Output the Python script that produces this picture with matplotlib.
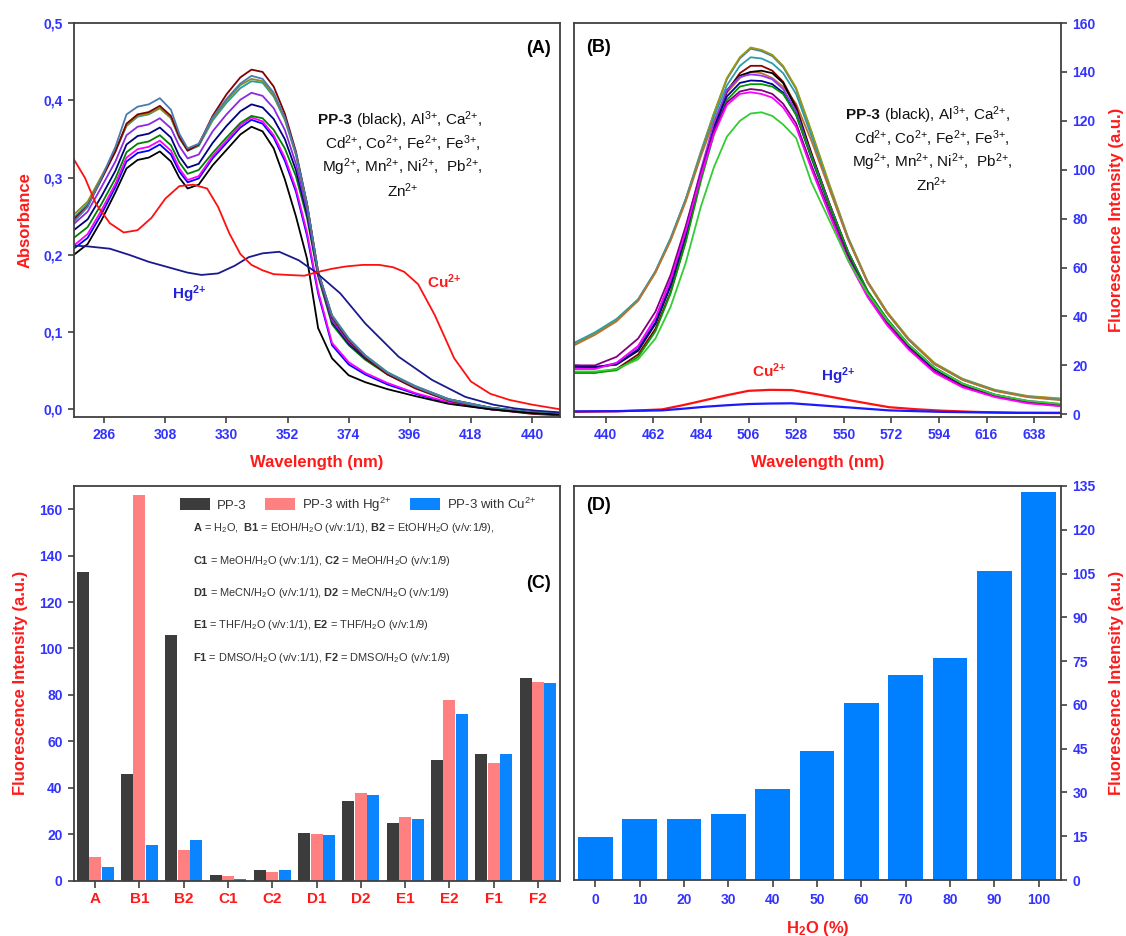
import matplotlib
matplotlib.use('Agg')
import matplotlib.pyplot as plt
import numpy as np

plt.rcParams['font.family'] = ['Liberation Sans', 'DejaVu Sans']
plt.rcParams['mathtext.fontset'] = 'custom'
plt.rcParams['mathtext.rm'] = 'Liberation Sans'
plt.rcParams['mathtext.bf'] = 'Liberation Sans:bold'
plt.rcParams['mathtext.it'] = 'Liberation Sans:italic'

# ---------- (A) absorption spectra ----------
wl_a = [275, 280, 285, 290, 294, 298, 302, 306, 310, 313, 316, 320, 325, 330, 335, 339,
        343, 347, 351, 355, 359, 363, 368, 374, 380, 388, 398, 410, 425, 440, 450]
abs_pp3 = [.200, .214, .245, .281, .312, .323, .326, .334, .321, .300, .286, .291, .316, .336, .356, .366,
           .360, .338, .298, .250, .195, .105, .066, .044, .035, .026, .017, .007, .000, -.005, -.007]
abs_ions = {
    '#0000ff': [.208, .222, .253, .288, .321, .332, .335, .343, .330, .308, .294, .299, .325, .345, .365, .375,
                .370, .352, .322, .282, .225, .150, .083, .058, .045, .032, .020, .008, .000, -.005, -.007],
    '#ff00ff': [.212, .227, .258, .292, .326, .337, .340, .348, .335, .312, .297, .302, .328, .348, .368, .378,
                .373, .355, .326, .286, .229, .153, .086, .061, .047, .034, .021, .009, .000, -.005, -.007],
    '#008000': [.222, .236, .266, .299, .333, .344, .347, .355, .342, .320, .305, .310, .332, .352, .371, .380,
                .377, .362, .338, .302, .248, .172, .110, .083, .064, .045, .028, .012, .002, -.004, -.006],
    '#000080': [.232, .246, .276, .309, .343, .354, .357, .365, .352, .328, .313, .318, .345, .367, .386, .395,
                .391, .376, .350, .310, .253, .175, .113, .085, .066, .046, .029, .013, .002, -.004, -.006],
    '#8a2be2': [.240, .256, .288, .321, .355, .366, .369, .377, .364, .341, .325, .330, .360, .382, .401, .410,
                .406, .390, .362, .318, .258, .176, .115, .087, .068, .047, .030, .013, .002, -.004, -.006],
    '#1f9f9f': [.248, .266, .300, .334, .367, .379, .382, .390, .377, .351, .335, .341, .374, .397, .416, .425,
                .423, .405, .375, .330, .265, .178, .122, .092, .070, .048, .030, .013, .002, -.004, -.006],
    '#8c8c1a': [.252, .269, .302, .335, .368, .380, .383, .390, .378, .352, .336, .342, .376, .400, .420, .428,
                .425, .407, .376, .330, .265, .178, .121, .091, .069, .047, .029, .012, .001, -.005, -.007],
    '#800000': [.246, .263, .298, .334, .370, .382, .385, .393, .380, .353, .335, .343, .380, .408, .430, .440,
                .437, .418, .383, .334, .266, .178, .119, .089, .067, .045, .027, .011, .000, -.006, -.008],
    '#4a7ab0': [.243, .262, .300, .340, .382, .392, .395, .403, .388, .357, .338, .344, .378, .402, .422, .432,
                .428, .410, .378, .332, .266, .178, .121, .091, .069, .047, .029, .012, .001, -.005, -.007],
}
wl_hg_a = [275, 280, 288, 295, 302, 310, 316, 321, 327, 333, 338, 343, 349, 356, 362, 371,
           380, 392, 404, 416, 426, 434, 442, 450]
abs_hg = [0.212, 0.211, 0.208, 0.200, 0.191, 0.183, 0.177, 0.174, 0.176, 0.186, 0.197, 0.202,
          0.204, 0.193, 0.178, 0.150, 0.111, 0.068, 0.038, 0.016, 0.006, 0.001, -0.002, -0.004]
wl_cu_a = [275, 279, 283, 288, 293, 298, 303, 308, 313, 318, 323, 327, 331, 335, 339, 343, 347,
           352, 358, 363, 368, 373, 379, 385, 390, 394, 399, 405, 412, 418, 425, 432, 440, 450]
abs_cu = [0.324, 0.300, 0.266, 0.241, 0.229, 0.232, 0.248, 0.273, 0.289, 0.291, 0.286, 0.262,
          0.228, 0.201, 0.187, 0.180, 0.175, 0.174, 0.173, 0.178, 0.182, 0.185, 0.187, 0.187,
          0.184, 0.178, 0.162, 0.122, 0.066, 0.036, 0.020, 0.012, 0.006, 0.000]

# ---------- (B) emission spectra ----------
wl_b = [425, 435, 445, 455, 463, 470, 477, 484, 490, 496, 502, 507, 512, 517, 522, 528,
        535, 543, 552, 561, 570, 580, 592, 605, 620, 635, 650]
fl_ions = {
    '#4a7ab0': [29, 33, 38.5, 47, 58.5, 72, 88, 107.5, 123, 137, 145.5, 149.5, 148.5, 146.5, 142, 133,
                115.5, 94.5, 72, 54, 41.5, 30.5, 20.5, 14.2, 9.7, 7.3, 6.3],
    '#9a9a10': [28.5, 33, 38.5, 46.5, 58, 71.5, 88, 107, 123, 137.5, 146, 150, 149, 147, 142.5, 133.5,
                116, 95, 72.5, 54.5, 42, 31, 21, 14.5, 10, 7.5, 6.5],
    '#2a9fa5': [29, 33.5, 39, 47, 58.5, 72, 88, 106.5, 121.5, 134.5, 142.5, 146, 145.5, 143.5, 139.5, 131,
                114, 93.5, 72, 54, 41.5, 30.5, 20.5, 14.3, 9.8, 7.2, 6],
    '#b87333': [28, 32.5, 38, 46.5, 58, 71, 87, 105.5, 120, 131.5, 137.5, 140, 139.5, 137.5, 134, 127,
                112, 93, 71.5, 54, 41.5, 30.5, 20.5, 14, 9.5, 7, 5.8],
    '#8b0000': [17, 17, 18.5, 24.5, 35, 50, 71, 97, 117, 132, 139.5, 142.5, 142.5, 140.5, 136, 126,
                107, 87, 66, 50, 38.5, 28, 18.5, 12, 7.5, 4.8, 3.5],
    '#000000': [20, 19.4, 20.3, 26, 37, 52.5, 73, 98, 117.5, 132.5, 138.5, 140, 140.5, 139.5, 135.5, 125,
                106.5, 87, 66.5, 50.2, 38.5, 28, 18.5, 12.2, 7.7, 5.1, 3.8],
    '#9933ff': [19, 19, 21, 27.5, 39, 55, 76, 100, 119, 132.5, 138, 139, 138.5, 137, 133, 124,
                106, 87, 66.5, 50.5, 39, 28.5, 19, 12.5, 8, 5.5, 4.2],
    '#000099': [19.5, 19.2, 20.5, 26.5, 37.5, 53, 73.5, 98, 116.5, 130, 135.5, 136.5, 136.3, 135, 131.5, 122.5,
                105, 86, 66, 50, 38.5, 28, 18.5, 12.2, 7.8, 5.2, 4],
    '#009900': [17, 17, 18, 23.5, 34, 49.5, 70.5, 95.5, 114.5, 128.5, 134, 135, 135, 134, 131, 122.5,
                105.5, 86.5, 66.5, 50.5, 39, 28.5, 19, 12.5, 8, 5.3, 4],
    '#800080': [20, 20, 23.5, 31, 42, 57, 77, 99, 116, 127.5, 132, 133, 132.5, 131, 127, 119,
                102, 84, 64.5, 49, 37.5, 27, 17.5, 11.5, 7.3, 4.8, 3.5],
    '#ff00ff': [18.5, 18.5, 21, 28, 39.5, 55, 75, 97.5, 114.5, 126.5, 131, 131.7, 131, 129.5, 125.5, 117.5,
                100.5, 82.5, 63, 48, 36.5, 26.5, 17, 11, 7, 4.5, 3.3],
    '#33cc33': [17.5, 17.5, 18.5, 22.5, 31, 44, 62, 85, 101, 113.5, 120, 123, 123.5, 122, 118.5, 113,
                95, 80, 63, 49.5, 38.5, 28.5, 19, 12.5, 8, 5.5, 4.3],
}
wl_b_q = [425, 445, 466, 476, 486, 496, 506, 516, 526, 537, 548, 560, 571, 583, 595, 610, 630, 650]
fl_cu = [1.0, 1.2, 2.0, 3.8, 5.8, 7.8, 9.6, 10.0, 9.9, 8.3, 6.5, 4.6, 2.9, 2.1, 1.5, 1.0, 0.6, 0.5]
fl_hg = [1.2, 1.3, 1.6, 2.3, 3.1, 3.7, 4.2, 4.4, 4.5, 3.8, 3.1, 2.3, 1.6, 1.3, 1.0, 0.8, 0.6, 0.6]

# ---------- (C) solvents ----------
solvents = ['A', 'B1', 'B2', 'C1', 'C2', 'D1', 'D2', 'E1', 'E2', 'F1', 'F2']
c_pp3 = [133, 46, 106, 2.5, 4.8, 20.5, 34.5, 24.8, 51.8, 54.5, 87.5]
c_hg = [10.4, 166, 13.2, 2.0, 3.8, 20.1, 37.7, 27.4, 77.8, 50.8, 85.7]
c_cu = [5.9, 15.5, 17.5, 0.7, 4.4, 19.7, 36.9, 26.6, 71.8, 54.5, 85.3]
c_notes = [r"$\mathbf{A}$ = H$_2$O,  $\mathbf{B1}$ = EtOH/H$_2$O (v/v:1/1), $\mathbf{B2}$ = EtOH/H$_2$O (v/v:1/9),",
           r"$\mathbf{C1}$ = MeOH/H$_2$O (v/v:1/1), $\mathbf{C2}$ = MeOH/H$_2$O (v/v:1/9)",
           r"$\mathbf{D1}$ = MeCN/H$_2$O (v/v:1/1), $\mathbf{D2}$ = MeCN/H$_2$O (v/v:1/9)",
           r"$\mathbf{E1}$ = THF/H$_2$O (v/v:1/1), $\mathbf{E2}$ = THF/H$_2$O (v/v:1/9)",
           r"$\mathbf{F1}$ = DMSO/H$_2$O (v/v:1/1), $\mathbf{F2}$ = DMSO/H$_2$O (v/v:1/9)"]

# ---------- (D) water fraction ----------
water = ['0', '10', '20', '30', '40', '50', '60', '70', '80', '90', '100']
d_int = [14.6, 20.9, 20.9, 22.5, 31.2, 44.2, 60.8, 70.4, 76.2, 106, 133]

AX = '#404040'
TICK = '#3333ff'
RED = '#ff1a1a'

ion_lines = ["(black), Al$^{3{+}}$, Ca$^{2{+}}$,",
             "Cd$^{2{+}}$, Co$^{2{+}}$, Fe$^{2{+}}$, Fe$^{3{+}}$,",
             "Mg$^{2{+}}$, Mn$^{2{+}}$, Ni$^{2{+}}$,  Pb$^{2{+}}$,",
             "Zn$^{2{+}}$"]


def style(ax):
    for s in ax.spines.values():
        s.set_color(AX)
        s.set_linewidth(1.3)
    ax.tick_params(direction='out', length=4, width=1.2, color=AX,
                   labelcolor=TICK, labelsize=10, pad=4)
    plt.setp(ax.get_xticklabels() + ax.get_yticklabels(), fontweight='bold')


def ion_text(ax, x_split, x_center, y0, dy):
    ax.text(x_split, y0, 'PP-3', transform=ax.transAxes, ha='right', va='center',
            fontsize=11, fontweight='bold', color='#111111')
    ax.text(x_split, y0, ' ' + ion_lines[0], transform=ax.transAxes, ha='left', va='center',
            fontsize=11, color='#111111')
    for i, t in enumerate(ion_lines[1:], start=1):
        ax.text(x_center, y0 - i * dy, t, transform=ax.transAxes, ha='center', va='center',
                fontsize=11, color='#111111')


fig = plt.figure(figsize=(11.26, 9.36), dpi=100)

# (A)
ax = fig.add_axes([0.0655, 0.5542, 0.4316, 0.4209])
for col, vals in abs_ions.items():
    ax.plot(wl_a, vals, color=col, lw=1.3)
ax.plot(wl_a, abs_pp3, color='black', lw=1.3)
ax.plot(wl_hg_a, abs_hg, color='#1a1a8c', lw=1.3)
ax.plot(wl_cu_a, abs_cu, color='#ff1010', lw=1.3)
ax.set_xlim(275, 450)
ax.set_ylim(-0.0104, 0.5)
ax.set_xticks(np.arange(286, 441, 22))
yt = np.arange(0, 0.51, 0.1)
ax.set_yticks(yt, [f"{v:.1f}".replace('.', ',') for v in yt])
style(ax)
ax.set_xlabel('Wavelength (nm)', color=RED, fontsize=12, fontweight='bold', labelpad=9)
ax.set_ylabel('Absorbance', color=RED, fontsize=12, fontweight='bold', labelpad=8)
ax.text(0.957, 0.935, '(A)', transform=ax.transAxes, ha='center', va='center',
        fontsize=13, fontweight='bold')
ion_text(ax, 0.572, 0.677, 0.7546, 0.0595)
ax.text(316.4, 0.149, r"$\mathbf{Hg}^{\mathbf{2{+}}}$", color='#2222dd', fontsize=11,
        ha='center', va='center')
ax.text(408.5, 0.165, r"$\mathbf{Cu}^{\mathbf{2{+}}}$", color=RED, fontsize=11,
        ha='center', va='center')

# (B)
ax = fig.add_axes([0.5095, 0.5545, 0.4329, 0.4209])
for col, vals in fl_ions.items():
    ax.plot(wl_b, vals, color=col, lw=1.3)
ax.plot(wl_b_q, fl_cu, color='#ff1010', lw=1.6)
ax.plot(wl_b_q, fl_hg, color='#1a1aff', lw=1.6)
ax.set_xlim(425.2, 650.5)
ax.set_ylim(-1.1, 160)
ax.set_xticks(np.arange(440, 639, 22))
ax.set_yticks(np.arange(0, 161, 20))
ax.yaxis.tick_right()
ax.yaxis.set_label_position('right')
style(ax)
ax.set_xlabel('Wavelength (nm)', color=RED, fontsize=12, fontweight='bold', labelpad=9)
ax.set_ylabel('Fluorescence Intensity (a.u.)', color=RED, fontsize=12, fontweight='bold', labelpad=10)
ax.text(0.051, 0.938, '(B)', transform=ax.transAxes, ha='center', va='center',
        fontsize=13, fontweight='bold')
ion_text(ax, 0.628, 0.735, 0.766, 0.0592)
ax.text(515.5, 18, r"$\mathbf{Cu}^{\mathbf{2{+}}}$", color=RED, fontsize=11, ha='center', va='center')
ax.text(547.4, 15.6, r"$\mathbf{Hg}^{\mathbf{2{+}}}$", color='#2222dd', fontsize=11,
        ha='center', va='center')

# (C)
ax = fig.add_axes([0.0655, 0.0591, 0.4316, 0.4217])
x = np.arange(len(solvents))
w = 0.27
ax.bar(x - 0.28, c_pp3, w, color='#3c3c3c', label='PP-3')
ax.bar(x, c_hg, w, color='#ff8080', label='PP-3 with Hg$^{2{+}}$')
ax.bar(x + 0.28, c_cu, w, color='#0a84ff', label='PP-3 with Cu$^{2{+}}$')
ax.set_xlim(-0.483, 10.49)
ax.set_ylim(0, 170)
ax.set_xticks(x, solvents)
ax.set_yticks(np.arange(0, 161, 20))
style(ax)
ax.tick_params(axis='x', labelcolor=RED, labelsize=11, length=5, pad=3)
ax.set_ylabel('Fluorescence Intensity (a.u.)', color=RED, fontsize=12, fontweight='bold', labelpad=8)
ax.legend(loc='center left', bbox_to_anchor=(0.205, 0.953), ncol=3, frameon=False,
          fontsize=9.5, handlelength=2.3, handleheight=1.0, columnspacing=1.4,
          handletextpad=0.5, borderpad=0, labelcolor='#333333')
for i, t in enumerate(c_notes):
    ax.text(0.2446, 0.893 - i * 0.082, t, transform=ax.transAxes, ha='left', va='center',
            fontsize=7.9, color='#333333')
ax.text(0.957, 0.752, '(C)', transform=ax.transAxes, ha='center', va='center',
        fontsize=13, fontweight='bold')

# (D)
ax = fig.add_axes([0.5095, 0.0598, 0.4329, 0.4210])
xd = np.arange(len(water))
ax.bar(xd, d_int, 0.78, color='#0080ff')
ax.set_xlim(-0.49, 10.51)
ax.set_ylim(0, 135)
ax.set_xticks(xd, water)
ax.set_yticks(np.arange(0, 136, 15))
ax.yaxis.tick_right()
ax.yaxis.set_label_position('right')
style(ax)
ax.tick_params(axis='x', length=5, pad=4)
ax.set_xlabel(r"$\mathbf{H}_{\mathbf{2}}\mathbf{O}$ (%)", color=RED, fontsize=12,
              fontweight='bold', labelpad=9)
ax.set_ylabel('Fluorescence Intensity (a.u.)', color=RED, fontsize=12, fontweight='bold', labelpad=10)
ax.text(0.051, 0.951, '(D)', transform=ax.transAxes, ha='center', va='center',
        fontsize=13, fontweight='bold')

fig.savefig('out.png', dpi=100)
